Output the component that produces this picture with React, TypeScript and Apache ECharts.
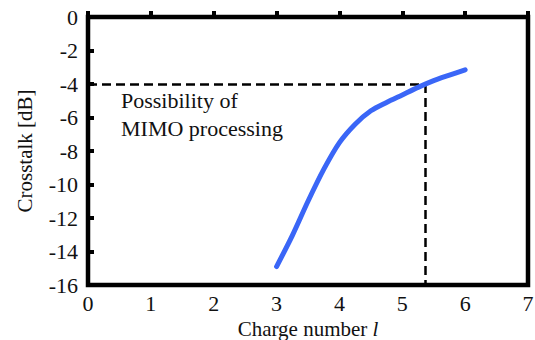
import React, { useEffect, useRef } from "react";
import * as echarts from "echarts";

const chargeNumbers = [3.0, 3.25, 3.5, 3.75, 4.0, 4.25, 4.5, 4.75, 5.0, 5.25, 5.5, 5.75, 6.0];
const crosstalkDb = [-14.9, -13.05, -11.0, -9.1, -7.5, -6.4, -5.6, -5.1, -4.65, -4.2, -3.8, -3.47, -3.15];
const thresholdDb = -4;
const thresholdCharge = 5.37;
const annotationLines = ["Possibility of", "MIMO processing"];

const FONT = "Liberation Serif";

export default function App() {
  const ref = useRef<HTMLDivElement>(null);
  useEffect(() => {
    if (!ref.current) return;
    document.body.style.margin = "0";
    document.body.style.overflow = "hidden";
    const chart = echarts.init(ref.current, undefined, { renderer: "svg" });
    const data = chargeNumbers.map((x, i) => [x, crosstalkDb[i]]);
    chart.setOption({
      animation: false,
      backgroundColor: "#ffffff",
      textStyle: { fontFamily: FONT },
      grid: {
        left: 88,
        right: 7,
        top: 17,
        bottom: 55,
        show: true,
        borderColor: "#000",
        borderWidth: 4.5,
        containLabel: false,
        outerBoundsMode: "none",
      },
      xAxis: {
        type: "value",
        min: 0,
        max: 7,
        interval: 1,
        splitLine: { show: false },
        axisLine: { show: false },
        axisTick: { show: true, inside: true, length: 6, lineStyle: { color: "#000", width: 4 } },
        axisLabel: { color: "#111", fontFamily: FONT, fontSize: 22, margin: 7 },
        name: "Charge number {i|l}",
        nameLocation: "middle",
        nameGap: 27,
        nameTextStyle: {
          color: "#111",
          fontFamily: FONT,
          fontSize: 21,
          lineHeight: 21,
          rich: { i: { fontStyle: "italic", fontFamily: FONT, fontSize: 21, lineHeight: 21, color: "#111" } },
        },
      },
      yAxis: {
        type: "value",
        min: -16,
        max: 0,
        interval: 2,
        splitLine: { show: false },
        axisLine: { show: false },
        axisTick: { show: true, inside: true, length: 6, lineStyle: { color: "#000", width: 4 } },
        axisLabel: { color: "#111", fontFamily: FONT, fontSize: 22, margin: 10 },
        name: "Crosstalk [dB]",
        nameLocation: "middle",
        nameGap: 53,
        nameTextStyle: { color: "#111", fontFamily: FONT, fontSize: 21 },
      },
      graphic: [
        {
          type: "text",
          left: 121,
          top: 89,
          style: {
            text: annotationLines[0],
            font: "22px Liberation Serif",
            fill: "#111",
          },
        },
        {
          type: "text",
          left: 121,
          top: 117,
          style: {
            text: annotationLines[1],
            font: "22px Liberation Serif",
            fill: "#111",
          },
        },
      ],
      series: [
        {
          type: "line",
          data,
          smooth: 0.3,
          showSymbol: false,
          symbol: "none",
          lineStyle: { color: "#3a66f7", width: 5, cap: "round", join: "round" },
          z: 5,
          markLine: {
            silent: true,
            symbol: "none",
            label: { show: false },
            lineStyle: { color: "#000", width: 2.5, type: [9, 5] },
            data: [
              [{ coord: [0, thresholdDb] }, { coord: [thresholdCharge, thresholdDb] }],
              [{ coord: [thresholdCharge, thresholdDb] }, { coord: [thresholdCharge, -16] }],
            ],
            z: 3,
          },
        },
      ],
    });
    return () => chart.dispose();
  }, []);
  return <div ref={ref} style={{ position: "fixed", left: 0, top: 0, width: 535, height: 340 }} />;
}
